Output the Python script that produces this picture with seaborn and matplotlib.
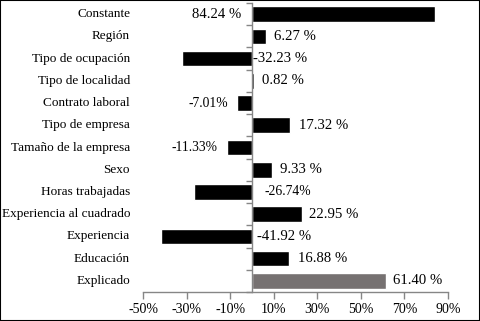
import matplotlib
matplotlib.use("Agg")
import numpy as np
import pandas as pd
import matplotlib.pyplot as plt
import seaborn as sns
from matplotlib.patches import Rectangle

# --- data ---
categories = ["Constante", "Región", "Tipo de ocupación", "Tipo de localidad",
              "Contrato laboral", "Tipo de empresa", "Tamaño de la empresa",
              "Sexo", "Horas trabajadas", "Experiencia al cuadrado",
              "Experiencia", "Educación", "Explicado"]
values = [84.24, 6.27, -32.23, 0.82, -7.01, 17.32, -11.33,
          9.33, -26.74, 22.95, -41.92, 16.88, 61.40]
value_labels = ["84.24 %", "6.27 %", "-32.23 %", "0.82 %", "-7.01%", "17.32 %",
                "-11.33%", "9.33 %", "-26.74%", "22.95 %", "-41.92 %",
                "16.88 %", "61.40 %"]
x_ticks = [-50, -30, -10, 10, 30, 50, 70, 90]

# label placement: anchor ('base' = zero line, 'end' = bar end) and pixel offset
label_anchor = ["base", "end", "base", "end", "end", "end", "end",
                "end", "base", "end", "base", "end", "end"]
label_offset = [-11, 8, 1, 8, -9, 9, -10, 8, 13, 7, 5, 9, 7]
small_label = [False, False, False, False, True, False, True,
               False, True, False, False, False, False]
bar_colors = ["#000000"] * 12 + ["#767171"]
axis_grey = "#868686"

sns.set_theme(style="white")
plt.rcParams["font.family"] = ["Liberation Serif", "DejaVu Serif"]

df = pd.DataFrame({"cat": categories, "val": values})

fig = plt.figure(figsize=(4.8, 3.21), dpi=100)
ax = fig.add_axes([143 / 480, 29 / 321, 305 / 480, 289 / 321])

sns.barplot(data=df, x="val", y="cat", hue="cat", palette=bar_colors,
            orient="h", width=0.7, legend=False, ax=ax, saturation=1)

ax.set_xlim(-50, 90)
ax.set_ylim(12.5, -0.5)
ax.set_xlabel("")
ax.set_ylabel("")

# x axis
ax.set_xticks(x_ticks)
ax.set_xticklabels([f"{t}%" for t in x_ticks], fontsize=10, color="black")
ax.tick_params(axis="x", direction="out", length=5, width=1, color=axis_grey,
               pad=3, bottom=True)

# vertical axis at zero with ticks at category boundaries
ax.spines["left"].set_position(("data", 0))
ax.set_yticks(np.arange(-0.5, 13, 1))
ax.set_yticklabels([])
ax.tick_params(axis="y", direction="out", length=4, width=1, color=axis_grey,
               left=True)
for side in ["left", "bottom"]:
    ax.spines[side].set_color(axis_grey)
    ax.spines[side].set_linewidth(1)
for side in ["top", "right"]:
    ax.spines[side].set_visible(False)

# category names on the left
for i, name in enumerate(categories):
    ax.annotate(name, xy=(-13 / 305, i), xycoords=("axes fraction", "data"),
                ha="right", va="center", fontsize=9.5, color="black")

# value labels
for i, (v, txt) in enumerate(zip(values, value_labels)):
    x0 = v if label_anchor[i] == "end" else 0
    off = label_offset[i]
    ha = "left" if off > 0 else "right"
    ax.annotate(txt, xy=(x0, i), xytext=(off, 0), textcoords="offset pixels",
                ha=ha, va="center", fontsize=9.8 if small_label[i] else 10.6,
                color="black")

# outer frame
fig.patches.append(Rectangle((0, 0), 1, 1, transform=fig.transFigure,
                             fill=False, edgecolor="black", linewidth=1.5))

fig.savefig("out.png", dpi=100)
